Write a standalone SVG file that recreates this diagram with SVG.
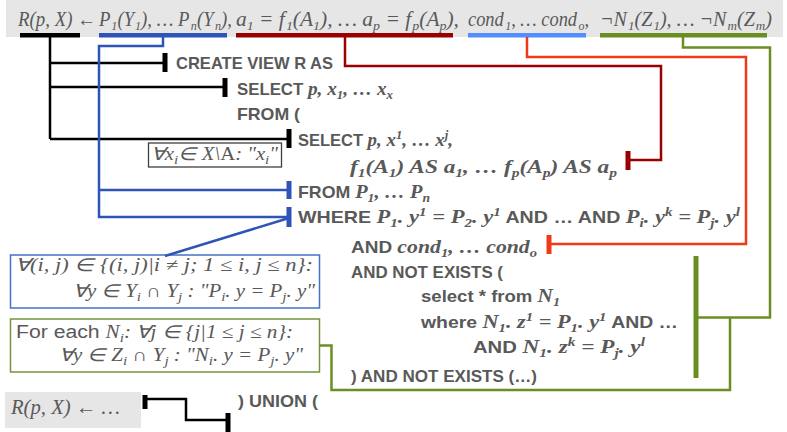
<svg xmlns="http://www.w3.org/2000/svg" width="787" height="432" viewBox="0 0 787 432">
<style>
.m{font-family:"Liberation Serif",serif;font-style:italic;fill:#595959;font-size:20px}
.mb{font-family:"Liberation Serif",serif;font-style:italic;font-weight:bold;fill:#595959;font-size:19.5px}
.k{font-family:"Liberation Sans",sans-serif;font-weight:bold;fill:#595959;font-size:17px}
.bx{font-size:18px}
.r{font-family:"Liberation Sans",sans-serif;font-style:normal;fill:#595959}
.up{font-style:normal}
.sb{font-size:13px;baseline-shift:-4px}
.sp{font-size:13px;baseline-shift:7px}
.ln{fill:none;stroke-width:2.5}
.tk{stroke-width:5}
.bg{fill:#E7E6E6}
</style>
<g id="formula">
<rect class="bg" x="6" y="0" width="777" height="37"/>
<text class="m" x="18" y="26" textLength="78" lengthAdjust="spacingAndGlyphs">R(p, X) ←</text>
<text class="m" x="99" y="26" textLength="133" lengthAdjust="spacingAndGlyphs">P<tspan class="sb" dx="1">1</tspan>(Y<tspan class="sb" dx="1">1</tspan>), … P<tspan class="sb" dx="1.5">n</tspan>(Y<tspan class="sb" dx="1.5">n</tspan>),</text>
<text class="m" x="236" y="26" textLength="223" lengthAdjust="spacingAndGlyphs">a<tspan class="sb">1</tspan> = f<tspan class="sb" dx="1">1</tspan>(A<tspan class="sb">1</tspan>), … a<tspan class="sb">p</tspan> = f<tspan class="sb" dx="1">p</tspan>(A<tspan class="sb">p</tspan>),</text>
<text class="m" x="468" y="26" textLength="121" lengthAdjust="spacingAndGlyphs">cond<tspan class="sb" dx="1.5">1</tspan>, … cond<tspan class="sb" dx="1.5">o</tspan>,</text>
<text class="m" x="600" y="26" textLength="172" lengthAdjust="spacingAndGlyphs">¬N<tspan class="sb" dx="1">1</tspan>(Z<tspan class="sb" dx="1">1</tspan>), … ¬N<tspan class="sb" dx="1">m</tspan>(Z<tspan class="sb" dx="1">m</tspan>)</text>
<rect x="20" y="33" width="60" height="4.5" fill="#000"/>
<rect x="99" y="33" width="128" height="4.5" fill="#2E54B8"/>
<rect x="236" y="33" width="217" height="4.5" fill="#990000"/>
<rect x="468" y="33" width="118" height="4.5" fill="#548DFF"/>
<rect x="600" y="33" width="167" height="4.5" fill="#6B8E23"/>
</g>
<g id="sql">
<text class="k" x="176" y="69" textLength="157" lengthAdjust="spacingAndGlyphs">CREATE VIEW R AS</text>
<text class="k" x="237" y="95" textLength="156" lengthAdjust="spacingAndGlyphs">SELECT <tspan class="mb">p, x<tspan class="sb">1</tspan>, … x<tspan class="sb">x</tspan></tspan></text>
<text class="k" x="237" y="120" textLength="63" lengthAdjust="spacingAndGlyphs">FROM (</text>
<text class="k" x="298" y="146" textLength="155" lengthAdjust="spacingAndGlyphs">SELECT <tspan class="mb">p, x<tspan class="sp">1</tspan>, … x<tspan class="sp">j</tspan>,</tspan></text>
<text class="mb" x="350" y="173" textLength="267" lengthAdjust="spacingAndGlyphs">f<tspan class="sb">1</tspan>(A<tspan class="sb">1</tspan>) AS a<tspan class="sb">1</tspan>, … f<tspan class="sb">p</tspan>(A<tspan class="sb">p</tspan>) AS a<tspan class="sb">p</tspan></text>
<text class="k" x="298" y="198" textLength="132" lengthAdjust="spacingAndGlyphs">FROM <tspan class="mb">P<tspan class="sb">1</tspan>, … P<tspan class="sb">n</tspan></tspan></text>
<text class="k" x="298" y="223" textLength="442" lengthAdjust="spacingAndGlyphs">WHERE <tspan class="mb">P<tspan class="sb">1</tspan>. y<tspan class="sp">1</tspan> = P<tspan class="sb">2</tspan>. y<tspan class="sp">1</tspan></tspan> AND … AND <tspan class="mb">P<tspan class="sb">i</tspan>. y<tspan class="sp">k</tspan> = P<tspan class="sb">j</tspan>. y<tspan class="sp">l</tspan></tspan></text>
<text class="k" x="351" y="253" textLength="186" lengthAdjust="spacingAndGlyphs">AND <tspan class="mb">cond<tspan class="sb">1</tspan>, … cond<tspan class="sb">o</tspan></tspan></text>
<text class="k" x="351" y="278" textLength="152" lengthAdjust="spacingAndGlyphs">AND NOT EXISTS (</text>
<text class="k" x="421" y="302" textLength="139" lengthAdjust="spacingAndGlyphs">select * from <tspan class="mb">N<tspan class="sb">1</tspan></tspan></text>
<text class="k" x="421" y="328" textLength="257" lengthAdjust="spacingAndGlyphs">where <tspan class="mb">N<tspan class="sb">1</tspan>. z<tspan class="sp">1</tspan> = P<tspan class="sb">1</tspan>. y<tspan class="sp">1</tspan></tspan> AND …</text>
<text class="k" x="473" y="353" textLength="172" lengthAdjust="spacingAndGlyphs">AND <tspan class="mb">N<tspan class="sb">1</tspan>. z<tspan class="sp">k</tspan> = P<tspan class="sb">j</tspan>. y<tspan class="sp">l</tspan></tspan></text>
<text class="k" x="351" y="382" textLength="186" lengthAdjust="spacingAndGlyphs">) AND NOT EXISTS (…)</text>
<text class="k" x="238" y="407" textLength="80" lengthAdjust="spacingAndGlyphs">) UNION (</text>
</g>
<g id="attr-box">
<rect x="148.5" y="143" width="133" height="24" fill="#fff" stroke="#404040" stroke-width="1.3"/>
<text class="m bx" x="151" y="160" textLength="127" lengthAdjust="spacingAndGlyphs">∀x<tspan class="sb">i</tspan>∈ X\<tspan class="up">A</tspan>: "x<tspan class="sb">i</tspan>"</text>
</g>
<g id="join-box">
<rect x="10.5" y="255" width="309" height="53" fill="#fff" stroke="#4472C4" stroke-width="1.5"/>
<text class="m bx" x="15" y="271" textLength="298" lengthAdjust="spacingAndGlyphs">∀(i, j) ∈ {(i, j)|i ≠ j; 1 ≤ i, j ≤ n}:</text>
<text class="m bx" x="73" y="297" textLength="242" lengthAdjust="spacingAndGlyphs">∀y ∈ Y<tspan class="sb">i</tspan> ∩ Y<tspan class="sb">j</tspan> : "P<tspan class="sb">i</tspan>. y = P<tspan class="sb">j</tspan>. y"</text>
</g>
<g id="neg-box">
<rect x="10.5" y="319" width="309" height="53" fill="#fff" stroke="#77933C" stroke-width="1.5"/>
<text class="m bx" x="16" y="338" textLength="277" lengthAdjust="spacingAndGlyphs"><tspan class="r">For each </tspan>N<tspan class="sb">i</tspan>: ∀j ∈ {j|1 ≤ j ≤ n}:</text>
<text class="m bx" x="59" y="361" textLength="244" lengthAdjust="spacingAndGlyphs">∀y ∈ Z<tspan class="sb">i</tspan> ∩ Y<tspan class="sb">j</tspan> : "N<tspan class="sb">i</tspan>. y = P<tspan class="sb">j</tspan>. y"</text>
</g>
<g id="union-box">
<rect class="bg" x="5" y="392" width="136" height="36"/>
<text class="m" x="11" y="414" textLength="109" lengthAdjust="spacingAndGlyphs">R(p, X) ← …</text>
</g>
<g id="connectors">
<g stroke="#000">
<path class="ln" d="M50,37 V139 M50,63 H164 M50,87 H225 M50,139 H289"/>
<path class="tk" d="M165,53 V72 M225,78 V97 M289,129 V148"/>
<path class="ln" d="M145,399 H186 V420 H228"/>
<path class="tk" d="M145,395 V409 M228,413 V432"/>
</g>
<g stroke="#2E54B8">
<path class="ln" d="M163,37 V46 H99 V217 H289 M99,190 H289 M289,218 L165,256"/>
<path class="tk" d="M289,181 V199 M289,207 V227"/>
</g>
<g stroke="#990000">
<path class="ln" d="M345,37 V66 H661 V160 H629"/>
<path class="tk" d="M628,151 V170"/>
</g>
<g stroke="#EE3A16">
<path class="ln" d="M527,37 V57 H746 V244 H549"/>
<path class="tk" d="M549,235 V254"/>
</g>
<g stroke="#6B8E23">
<path class="ln" d="M683,37 V47.5 H770 V317.5 H696"/>
<path class="ln" d="M319.5,345.5 H331.5 V390 H730 V317.5"/>
<path class="tk" d="M696,256 V378"/>
</g>
</g>
</svg>
